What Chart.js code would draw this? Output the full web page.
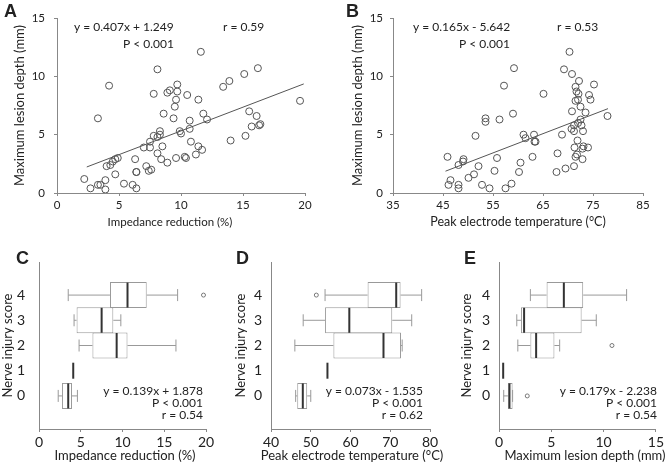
<!DOCTYPE html>
<html>
<head>
<meta charset="utf-8">
<script src="https://cdn.jsdelivr.net/npm/chart.js@4.4.1/dist/chart.umd.min.js"></script>
<style>
  html, body { margin: 0; padding: 0; background: #fff; }
  #wrap { position: relative; width: 666px; height: 468px; overflow: hidden; }
  #wrap canvas { position: absolute; left: 0; top: 0; }
</style>
</head>
<body>
<div id="wrap">
  <canvas id="chartA" width="666" height="468"></canvas>
  <canvas id="chartB" width="666" height="468"></canvas>
  <canvas id="chartC" width="666" height="468"></canvas>
  <canvas id="chartD" width="666" height="468"></canvas>
  <canvas id="chartE" width="666" height="468"></canvas>
</div>
<script>
// ---- data ----
// A: impedance reduction (%) vs max lesion depth (mm)
const aX = [2.2, 2.7, 3.3, 3.3, 3.5, 3.9, 3.9, 4.0, 4.2, 4.3, 4.5, 4.7, 4.7, 4.9, 5.4, 6.1, 6.3, 6.4, 6.4, 6.4,
            7.0, 7.2, 7.4, 7.5, 7.6, 7.5, 7.8, 7.8, 8.1, 8.1, 8.1, 8.3, 8.4, 8.5, 8.3, 8.6, 8.9, 8.9, 9.1, 9.4,
            9.5, 9.6, 9.6, 9.7, 9.7, 9.9, 10.0, 10.3, 10.4, 10.5, 10.7, 10.7, 10.8, 11.2, 11.4, 11.4, 11.6, 11.7,
            11.8, 12.1, 13.4, 13.9, 14.0, 15.1, 15.2, 15.5, 15.7, 16.1, 16.2, 16.3, 16.4, 19.6];
const aY = [1.2, 0.4, 6.4, 0.7, 0.7, 1.1, 0.3, 2.3, 9.2, 2.4, 2.7, 1.6, 2.9, 3.0, 0.8, 0.7, 2.9, 1.8, 1.8, 0.4,
            3.9, 2.3, 1.9, 3.9, 2.0, 4.4, 4.9, 8.5, 4.8, 10.6, 3.4, 5.3, 2.9, 4.0, 5.0, 6.8, 2.6, 8.6, 8.8, 6.4,
            7.4, 8.0, 3.0, 9.3, 8.7, 5.3, 5.1, 3.1, 3.0, 8.4, 6.2, 5.5, 4.4, 3.3, 4.0, 8.0, 12.1, 3.7,
            6.8, 6.3, 9.1, 9.6, 4.5, 10.2, 4.9, 7.0, 5.7, 6.6, 10.7, 5.8, 5.9, 7.9];
const aFitX = [2.4, 19.9];
const aFitY = [2.23, 9.35];

// B: peak electrode temperature (°C) vs max lesion depth (mm)
const bX = [45.9, 46.1, 46.5, 48.1, 48.1, 48.1, 49.0, 49.1, 50.1, 51.5, 51.2, 52.1, 52.8, 53.5, 53.5, 54.3, 55.3,
            55.8, 56.3, 57.2, 57.5, 58.7, 59.0, 59.2, 60.2, 60.5, 61.1, 61.5, 62.9, 63.2, 63.3, 63.5, 65.1,
            67.7, 67.9, 68.8, 69.2, 69.5, 70.3, 70.8, 70.8, 70.7, 71.2, 71.2, 71.2, 71.3, 71.5, 71.5, 71.5,
            71.7, 71.8, 71.9, 72.0, 72.0, 72.1, 72.2, 72.5, 72.5, 72.7, 72.9, 72.9, 73.0, 73.1, 73.5, 74.0,
            74.2, 74.5, 75.2, 77.9];
const bY = [3.1, 0.7, 1.1, 2.4, 0.7, 0.4, 2.7, 2.9, 1.3, 4.9, 1.6, 2.3, 0.7, 6.4, 6.1, 0.4, 1.9,
            3.0, 6.3, 9.2, 0.4, 0.8, 6.8, 10.7, 1.8, 2.6, 5.0, 4.7, 3.1, 5.0, 4.4, 4.4, 8.5,
            1.8, 3.4, 5.0, 10.6, 2.1, 12.1, 7.0, 10.2, 5.5, 2.3, 5.8, 5.3, 3.9, 7.9, 3.1, 9.1,
            8.7, 3.3, 4.5, 8.0, 6.0, 8.5, 9.6, 7.4, 6.3, 5.8, 3.8, 2.9, 5.3, 4.0, 6.9, 3.9,
            8.4, 8.0, 9.3, 6.6];
const bFitX = [45.5, 78.0];
const bFitY = [1.87, 7.23];

// C-E: box plots per nerve injury score (score 1 has a single value)
const scoreTicks = [0, 1, 2, 3, 4];

const cLow  = [2.3, null, 4.8, 4.2, 3.5];
const cQ1   = [2.75, null, 6.4, 4.5, 8.5];
const cMed  = [3.5, 4.1, 9.3, 7.5, 10.6];
const cQ3   = [3.95, null, 10.6, 8.9, 12.9];
const cHigh = [4.6, null, 16.4, 9.8, 16.6];
const cOutX = [19.7];
const cOutY = [4];

const dLow  = [46.2, null, 46.0, 48.1, 53.6];
const dQ1   = [46.6, null, 55.7, 53.6, 64.3];
const dMed  = [48.0, 54.2, 68.3, 59.7, 71.5];
const dQ3   = [49.1, null, 72.7, 70.5, 72.6];
const dHigh = [50.0, null, 73.0, 75.4, 77.9];
const dOutX = [51.4];
const dOutY = [4];

const eLow  = [0.45, null, 1.8, 1.7, 3.0];
const eQ1   = [0.85, null, 3.0, 2.1, 4.55];
const eMed  = [1.0, 0.4, 3.55, 2.4, 6.2];
const eQ3   = [1.3, null, 5.3, 7.9, 8.05];
const eHigh = [1.3, null, 5.8, 9.3, 12.2];
const eOutX = [2.7, 10.8];
const eOutY = [0, 2];

// ---- styling ----
const FONT = 'Lato, "Open Sans", sans-serif';
const INK = '#222';
const AXIS = '#888';
const BOXLINE = '#999';

// text drawn on top of each panel (panel letters, equations, x titles)
function notes(items) {
    return {
        id: 'notes',
        afterDraw(chart) {
            const ctx = chart.ctx;
            items.forEach(it => {
                ctx.save();
                ctx.font = it.font;
                ctx.fillStyle = INK;
                ctx.textAlign = it.align || 'left';
                ctx.textBaseline = 'middle';
                ctx.fillText(it.text, it.x, it.y);
                ctx.restore();
            });
        }
    };
}

const LETTER = 'bold 18px "Liberation Sans", Arial, sans-serif';
const EQ = '12px ' + FONT;
const TITLE_BOT = '13px ' + FONT;

function xAxis(min, max, step, size, h) {
    return {
        type: 'linear', position: 'bottom', min: min, max: max,
        ticks: { stepSize: step, color: INK, font: { family: FONT, size: size }, padding: 2 },
        grid: { drawOnChartArea: false, drawTicks: true, tickLength: 3, color: AXIS },
        border: { color: AXIS },
        afterFit: s => { s.height = h; }
    };
}

function scatterChart(id, xs, ys, fitX, fitY, xCfg, pad, yWidth, yTitlePad, yTickPad, texts) {
    const pts = xs.map((v, i) => ({ x: v, y: ys[i] }));
    const fit = fitX.map((v, i) => ({ x: v, y: fitY[i] }));
    return new Chart(document.getElementById(id), {
        type: 'scatter',
        data: {
            datasets: [
                { data: fit, showLine: true, borderColor: '#555', borderWidth: 1, pointRadius: 0, order: 0 },
                { data: pts, pointRadius: 3.5, borderColor: '#555', borderWidth: 1,
                  backgroundColor: 'rgba(0,0,0,0)', order: 1 }
            ]
        },
        options: {
            responsive: false, animation: false, events: [],
            layout: { autoPadding: false, padding: pad },
            plugins: { legend: { display: false }, tooltip: { enabled: false } },
            scales: {
                x: xCfg,
                y: {
                    type: 'linear', position: 'left', min: 0, max: 15,
                    ticks: { stepSize: 5, color: INK, font: { family: FONT, size: 11.5 }, padding: yTickPad },
                    grid: { drawOnChartArea: false, drawTicks: true, tickLength: 3, color: AXIS },
                    border: { color: AXIS },
                    title: { display: true, text: 'Maximum lesion depth (mm)', color: INK,
                             font: { family: FONT, size: 13 }, padding: { top: yTitlePad, bottom: 0 } },
                    afterFit: s => { s.width = yWidth; }
                }
            }
        },
        plugins: [notes(texts)]
    });
}

function boxChart(id, low, q1, med, q3, high, outX, outY, xCfg, pad, yWidth, yTitlePad, yTickPad, texts) {
    const whisk = [], caps = [], boxes = [], meds = [], outs = [];
    scoreTicks.forEach((s, i) => {
        if (low[i] !== null) {
            whisk.push({ x: low[i], y: s }, { x: q1[i], y: s }, { x: null, y: null },
                       { x: q3[i], y: s }, { x: high[i], y: s }, { x: null, y: null });
            caps.push({ x: low[i], y: s }, { x: high[i], y: s });
            boxes.push({ y: s, x: [q1[i], q3[i]] });
        }
        meds.push({ x: med[i], y: s, single: q1[i] === null });
    });
    outX.forEach((v, i) => outs.push({ x: v, y: scoreTicks[outY[i]] }));

    return new Chart(document.getElementById(id), {
        type: 'scatter',
        data: {
            datasets: [
                { type: 'line', data: whisk, borderColor: BOXLINE, borderWidth: 1, pointRadius: 0,
                  spanGaps: false, fill: false, order: 4 },
                { type: 'scatter', data: caps, pointStyle: 'line', rotation: 90, radius: 6,
                  borderColor: BOXLINE, borderWidth: 1, order: 3 },
                { type: 'bar', indexAxis: 'y', data: boxes, barThickness: 26, inflateAmount: 0,
                  backgroundColor: '#fff', borderColor: BOXLINE, borderWidth: 1, borderSkipped: false,
                  order: 2 },
                { type: 'scatter', data: meds, pointStyle: 'line', rotation: 90,
                  radius: c => (c.raw && c.raw.single) ? 8 : 12.5,
                  borderColor: '#333', borderWidth: 2, order: 1 },
                { type: 'scatter', data: outs, pointRadius: 2, borderColor: '#777', borderWidth: 1,
                  backgroundColor: 'rgba(0,0,0,0)', order: 0 }
            ]
        },
        options: {
            responsive: false, animation: false, events: [],
            layout: { autoPadding: false, padding: pad },
            plugins: { legend: { display: false }, tooltip: { enabled: false } },
            scales: {
                x: xCfg,
                y: {
                    type: 'linear', position: 'left', min: -0.65, max: 4.65,
                    afterBuildTicks: s => { s.ticks = scoreTicks.map(v => ({ value: v })); },
                    ticks: { color: INK, font: { family: FONT, size: 14 }, padding: yTickPad },
                    grid: { display: false, drawTicks: false },
                    border: { display: true, color: AXIS },
                    title: { display: true, text: 'Nerve injury score', color: INK,
                             font: { family: FONT, size: 13 }, padding: { top: yTitlePad, bottom: 0 } },
                    afterFit: s => { s.width = yWidth; }
                }
            }
        },
        plugins: [notes(texts)]
    });
}

// ---- panels ----
scatterChart('chartA', aX, aY, aFitX, aFitY,
    xAxis(0, 20, 5, 11.5, 37),
    { left: 0, top: 18, right: 361, bottom: 238 }, 57, 12, 9, [
        { text: 'A', x: 4, y: 12, font: LETTER },
        { text: 'y = 0.407x + 1.249', x: 74, y: 27.5, font: EQ },
        { text: 'r = 0.59', x: 223, y: 27.5, font: EQ },
        { text: 'P < 0.001', x: 174, y: 44, font: EQ, align: 'right' },
        { text: 'Impedance reduction (%)', x: 170, y: 222, font: '11.5px ' + FONT, align: 'center' }
    ]);

scatterChart('chartB', bX, bY, bFitX, bFitY,
    xAxis(35, 85, 10, 11.5, 37),
    { left: 330, top: 18, right: 23, bottom: 238 }, 63, 20, 7, [
        { text: 'B', x: 346, y: 12, font: LETTER },
        { text: 'y = 0.165x - 5.642', x: 413, y: 27.5, font: EQ },
        { text: 'r = 0.53', x: 557, y: 27.5, font: EQ },
        { text: 'P < 0.001', x: 510, y: 44, font: EQ, align: 'right' },
        { text: 'Peak electrode temperature (°C)', x: 518, y: 222, font: '12.5px ' + FONT, align: 'center' }
    ]);

boxChart('chartC', cLow, cQ1, cMed, cQ3, cHigh, cOutX, cOutY,
    xAxis(0, 20, 5, 14, 39),
    { left: 0, top: 262, right: 460, bottom: 0 }, 39, 0, 14, [
        { text: 'C', x: 16, y: 259, font: LETTER },
        { text: 'y = 0.139x + 1.878', x: 203, y: 391.5, font: EQ, align: 'right' },
        { text: 'P < 0.001', x: 203, y: 403.5, font: EQ, align: 'right' },
        { text: 'r = 0.54', x: 203, y: 415.5, font: EQ, align: 'right' },
        { text: 'Impedance reduction (%)', x: 125, y: 456, font: TITLE_BOT, align: 'center' }
    ]);

boxChart('chartD', dLow, dQ1, dMed, dQ3, dHigh, dOutX, dOutY,
    xAxis(40, 80, 10, 14, 39),
    { left: 225, top: 262, right: 236, bottom: 0 }, 46, 8, 9, [
        { text: 'D', x: 236, y: 259, font: LETTER },
        { text: 'y = 0.073x - 1.535', x: 423, y: 391.5, font: EQ, align: 'right' },
        { text: 'P < 0.001', x: 423, y: 403.5, font: EQ, align: 'right' },
        { text: 'r = 0.62', x: 423, y: 415.5, font: EQ, align: 'right' },
        { text: 'Peak electrode temperature (°C)', x: 352, y: 456, font: TITLE_BOT, align: 'center' }
    ]);

boxChart('chartE', eLow, eQ1, eMed, eQ3, eHigh, eOutX, eOutY,
    xAxis(0, 15, 5, 14, 39),
    { left: 455, top: 262, right: 5, bottom: 0 }, 44, 4, 9, [
        { text: 'E', x: 464, y: 259, font: LETTER },
        { text: 'y = 0.179x - 2.238', x: 657, y: 391.5, font: EQ, align: 'right' },
        { text: 'P < 0.001', x: 657, y: 403.5, font: EQ, align: 'right' },
        { text: 'r = 0.54', x: 657, y: 415.5, font: EQ, align: 'right' },
        { text: 'Maximum lesion depth (mm)', x: 585, y: 456, font: TITLE_BOT, align: 'center' }
    ]);
</script>
</body>
</html>
